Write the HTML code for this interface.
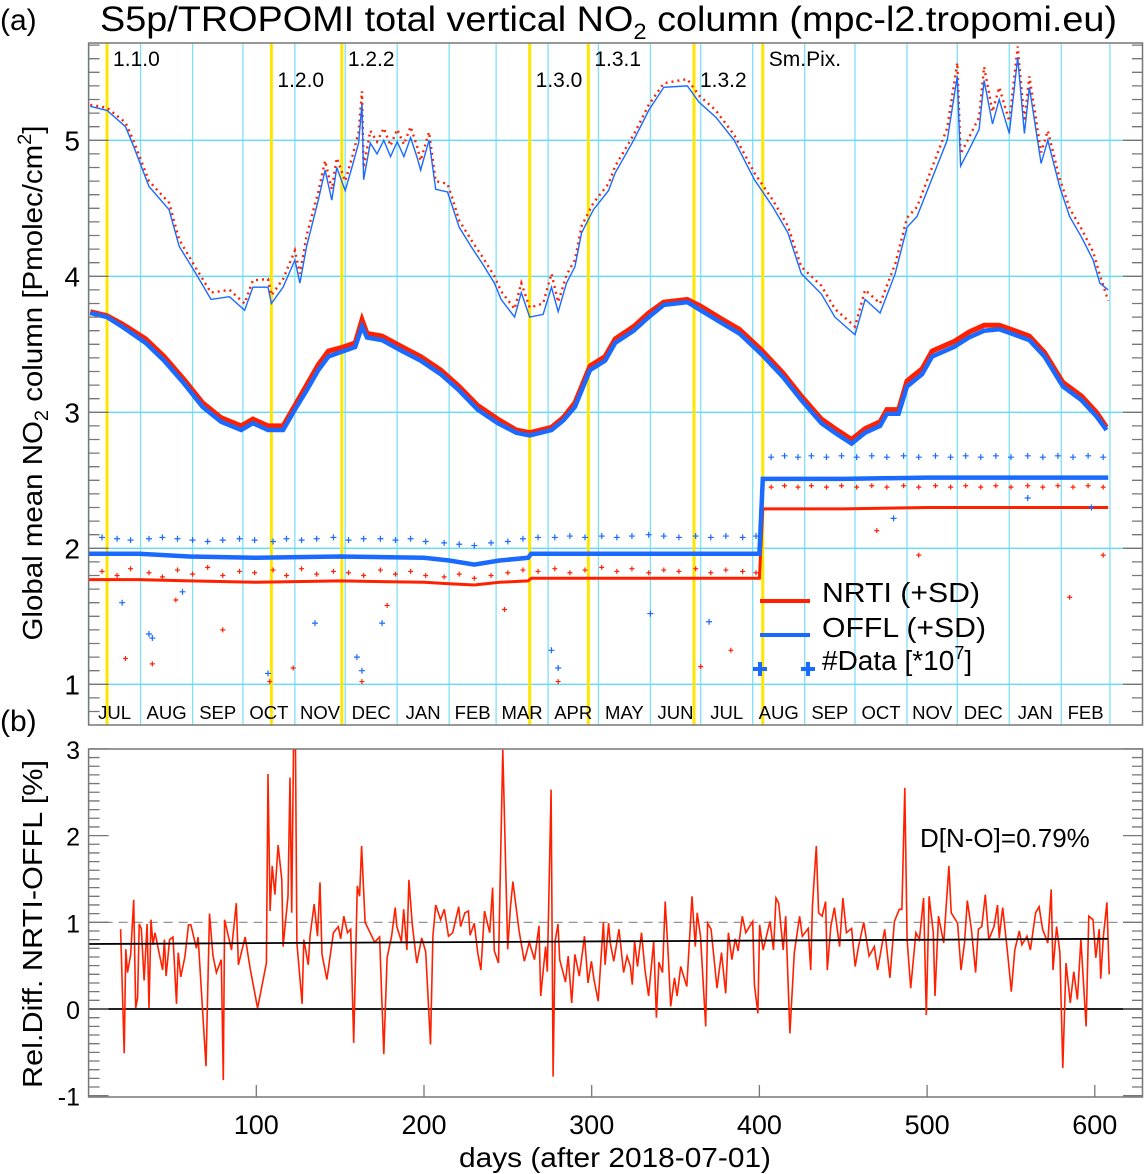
<!DOCTYPE html>
<html><head><meta charset="utf-8"><style>
html,body{margin:0;padding:0;background:#fff;}
svg{display:block;font-family:"Liberation Sans",sans-serif;}
</style></head><body>
<svg id="chart" width="1144" height="1174" viewBox="0 0 1144 1174" xmlns="http://www.w3.org/2000/svg">
<rect width="1144" height="1174" fill="#fff"/>
<g id="gGrid"></g>
<g id="gData"></g>
<g id="gAxes"></g>
<text x="0" y="30" font-size="30">(a)</text>
<text x="100" y="31" font-size="35" textLength="1017" lengthAdjust="spacingAndGlyphs">S5p/TROPOMI total vertical NO<tspan font-size="22" dy="8">2</tspan><tspan dy="-8"> column (mpc-l2.tropomi.eu)</tspan></text>
<text x="0" y="731" font-size="30">(b)</text>
<text transform="translate(42,383) rotate(-90)" text-anchor="middle" font-size="28" textLength="515" lengthAdjust="spacingAndGlyphs">Global mean NO<tspan font-size="19" dy="6">2</tspan><tspan dy="-6"> column [Pmolec/cm</tspan><tspan font-size="19" dy="-11">2</tspan><tspan dy="11">]</tspan></text>
<text transform="translate(42,924) rotate(-90)" text-anchor="middle" font-size="28" textLength="328" lengthAdjust="spacingAndGlyphs">Rel.Diff. NRTI-OFFL [%]</text>
<text x="615" y="1167" text-anchor="middle" font-size="28" textLength="312" lengthAdjust="spacingAndGlyphs">days (after 2018-07-01)</text>
<text x="920" y="847" font-size="26">D[N-O]=0.79%</text>
<g>
<line x1="760" y1="601" x2="810" y2="601" stroke="#ff2000" stroke-width="4"/>
<text x="822" y="602" font-size="28" textLength="158" lengthAdjust="spacingAndGlyphs">NRTI (+SD)</text>
<line x1="760" y1="635" x2="810" y2="635" stroke="#1a6aff" stroke-width="4"/>
<text x="822" y="637" font-size="28" textLength="164" lengthAdjust="spacingAndGlyphs">OFFL (+SD)</text>
<path d="M753 669h14M760 662v14M801 669h14M808 662v14" stroke="#1a6aff" stroke-width="4"/>
<text x="822" y="670" font-size="28">#Data [*10<tspan font-size="18" dy="-11">7</tspan><tspan dy="11">]</tspan></text>
</g>
</svg>
<script>
// ---------- data ----------
const offlUpDays=[1,11,22,27,36,48,54,64,73,84,93,98,107,109,116,123,126,130,137,141,145,148,153,157,161,163,164,168,172,176,180,184,188,192,196,198,203,207,214,217,221,228,235,242,246,254,258,263,271,276,280,285,290,294,301,310,314,325,334,343,357,364,374,385,397,408,417,425,437,445,457,463,472,481,488,494,503,512,518,520,525,531,534,539,543,549,554,558,561,568,572,579,585,592,599,603,608];
const offlUpVals=[5.25,5.22,5.10,4.95,4.66,4.49,4.22,4.02,3.83,3.85,3.75,3.92,3.92,3.80,3.92,4.12,3.95,4.22,4.56,4.78,4.56,4.80,4.63,4.80,4.98,5.27,4.71,4.98,4.90,5.00,4.88,4.99,4.88,5.02,4.87,4.78,5.00,4.64,4.62,4.51,4.36,4.22,4.09,3.95,3.83,3.70,3.88,3.70,3.72,3.92,3.74,3.95,4.07,4.32,4.49,4.63,4.76,5.00,5.22,5.39,5.40,5.28,5.17,5.00,4.71,4.51,4.32,4.02,3.87,3.70,3.57,3.83,3.73,4.02,4.36,4.44,4.72,5.00,5.47,4.81,4.93,5.08,5.44,5.12,5.30,5.05,5.61,5.05,5.39,4.83,5.00,4.66,4.44,4.29,4.12,3.95,3.90];
const nrtiUpVals=[5.26,5.24,5.13,4.99,4.70,4.54,4.27,4.06,3.88,3.90,3.80,3.97,3.98,3.86,3.98,4.19,4.02,4.30,4.62,4.85,4.64,4.87,4.70,4.87,5.06,5.36,4.80,5.07,4.99,5.09,4.96,5.08,4.97,5.10,4.95,4.85,5.06,4.70,4.68,4.57,4.41,4.27,4.14,4.00,3.89,3.76,3.95,3.77,3.80,4.02,3.81,4.01,4.12,4.37,4.54,4.68,4.81,5.04,5.26,5.42,5.45,5.33,5.22,5.04,4.76,4.56,4.37,4.07,3.93,3.76,3.63,3.90,3.80,4.09,4.43,4.51,4.80,5.09,5.57,4.90,5.02,5.17,5.54,5.21,5.39,5.14,5.69,5.14,5.47,4.91,5.07,4.72,4.50,4.35,4.18,4.01,3.82];
const meanDays=[1,11,20,34,45,57,68,79,91,98,107,116,123,130,137,143,152,159,163,166,175,187,198,210,221,232,244,255,263,276,283,290,299,308,314,325,334,343,357,365,377,388,401,414,425,437,445,455,463,472,476,483,488,497,503,516,525,534,543,550,561,570,581,592,601,607];
const offlMean=[3.73,3.70,3.63,3.51,3.38,3.21,3.04,2.93,2.87,2.92,2.87,2.87,3.02,3.16,3.31,3.41,3.45,3.48,3.63,3.55,3.53,3.45,3.38,3.28,3.16,3.02,2.92,2.85,2.83,2.87,2.94,3.04,3.31,3.38,3.51,3.60,3.70,3.79,3.81,3.75,3.66,3.58,3.43,3.26,3.09,2.92,2.85,2.77,2.85,2.90,2.99,2.99,3.19,3.28,3.41,3.48,3.55,3.60,3.61,3.58,3.53,3.41,3.19,3.09,2.97,2.87];
const nrtiMean=[3.74,3.71,3.65,3.54,3.41,3.24,3.07,2.96,2.90,2.95,2.90,2.90,3.05,3.20,3.35,3.45,3.48,3.51,3.68,3.58,3.56,3.48,3.41,3.31,3.19,3.05,2.95,2.87,2.85,2.89,2.96,3.07,3.34,3.41,3.54,3.63,3.73,3.81,3.83,3.78,3.69,3.61,3.46,3.29,3.12,2.95,2.88,2.80,2.88,2.93,3.02,3.02,3.23,3.32,3.45,3.52,3.59,3.64,3.64,3.61,3.56,3.44,3.22,3.12,3.00,2.89];
const countDays=[0,30,60,100,150,200,215,230,245,262,264,300,350,400,402,450,500,550,608];
const offlCount=[1.96,1.96,1.94,1.93,1.94,1.93,1.91,1.88,1.91,1.93,1.96,1.96,1.96,1.96,2.51,2.51,2.52,2.52,2.52];
const nrtiCount=[1.77,1.77,1.76,1.75,1.76,1.75,1.74,1.73,1.75,1.76,1.78,1.78,1.78,1.78,2.29,2.29,2.30,2.30,2.30];
const sdDays=[8,17,25,36,44,53,62,71,80,90,99,110,118,127,136,146,155,164,174,183,192,201,212,221,230,240,250,259,268,278,287,296,306,315,324,334,343,352,362,371,380,390,398,407,415,423,431,440,449,458,467,476,486,495,505,514,523,532,541,550,560,569,578,587,596,605];
const offlSdVals=[2.08,2.07,2.06,2.07,2.08,2.07,2.06,2.05,2.06,2.07,2.06,2.05,2.07,2.06,2.07,2.08,2.06,2.07,2.07,2.06,2.07,2.05,2.04,2.03,2.02,2.04,2.05,2.07,2.08,2.08,2.09,2.08,2.09,2.08,2.09,2.10,2.09,2.08,2.09,2.08,2.09,2.08,2.09,2.67,2.68,2.67,2.68,2.67,2.68,2.67,2.68,2.67,2.68,2.67,2.68,2.67,2.68,2.67,2.68,2.67,2.68,2.67,2.68,2.67,2.68,2.67];
const nrtiSdVals=[1.83,1.80,1.85,1.82,1.79,1.84,1.81,1.86,1.80,1.83,1.82,1.84,1.80,1.85,1.81,1.83,1.82,1.80,1.84,1.81,1.83,1.80,1.79,1.81,1.78,1.80,1.82,1.84,1.83,1.85,1.82,1.84,1.86,1.83,1.85,1.82,1.84,1.83,1.85,1.82,1.84,1.83,1.82,2.45,2.46,2.45,2.46,2.45,2.46,2.45,2.46,2.45,2.46,2.45,2.46,2.45,2.46,2.45,2.46,2.45,2.46,2.45,2.46,2.45,2.46,2.45];
const offlOutDays=[20,36,38,56,107,135,160,163,175,276,280,335,370,480,560,598];
const offlOutVals=[1.60,1.37,1.34,1.68,1.08,1.45,1.20,1.10,1.45,1.25,1.12,1.52,1.46,2.22,2.37,2.30];
const nrtiOutDays=[22,38,52,80,108,122,163,178,248,280,365,383,470,495,585,605];
const nrtiOutVals=[1.19,1.15,1.62,1.40,1.02,1.12,1.02,1.58,1.55,1.02,1.13,1.25,2.13,1.95,1.64,1.95];
const versionDays=[11,109,151,263,298,361,402];
const versionLabels=["1.1.0","1.2.0","1.2.2","1.3.0","1.3.1","1.3.2","Sm.Pix."];
const monthStarts=[0,31,62,92,123,153,184,215,243,274,304,335,365,396,427,457,488,518,549,580,609];
const monthLabels=["JUL","AUG","SEP","OCT","NOV","DEC","JAN","FEB","MAR","APR","MAY","JUN","JUL","AUG","SEP","OCT","NOV","DEC","JAN","FEB"];
const topTicks=[1,2,3,4,5];
const bottomTicks=[-1,0,1,2,3];
const xTicks=[100,200,300,400,500,600];
const diffDays=[19.1,21.2,22.2,23.2,25.1,26.9,28.1,29.2,30.2,31.4,33.1,34.9,36.0,37.2,38.4,39.6,44.1,45.2,46.2,48.3,50.3,52.4,53.4,55.0,57.5,59.6,61.0,64.3,65.3,70.0,72.1,74.1,76.2,79.1,80.3,81.1,85.2,88.1,89.3,93.4,96.3,100.8,106.0,107.0,108.2,109.5,111.1,113.0,115.2,116.0,118.9,120.1,121.1,122.2,123.4,124.2,127.3,128.3,131.0,132.0,134.5,136.5,138.0,139.2,142.1,146.0,148.9,150.3,152.2,154.4,156.3,158.1,160.2,161.6,162.8,164.9,170.6,173.5,176.0,178.0,180.7,182.8,183.8,186.5,187.9,189.8,191.0,193.0,195.7,198.6,201.0,203.9,205.3,207.0,209.9,212.1,214.6,217.1,220.7,221.8,224.4,226.5,227.5,230.0,232.0,233.9,236.1,239.2,240.9,241.9,244.4,247.0,249.9,251.5,253.0,256.7,259.8,262.8,265.9,268.6,269.6,272.5,273.5,275.8,277.0,278.2,279.9,280.9,284.4,286.0,288.1,290.0,292.6,295.7,297.8,299.8,301.4,303.9,307.0,308.0,310.1,311.1,313.2,316.3,319.0,321.1,323.1,324.2,325.6,327.3,329.7,331.8,333.9,337.0,338.6,340.1,342.2,343.8,345.7,347.1,349.4,350.9,353.1,356.7,359.8,361.8,362.9,364.9,368.0,369.1,371.2,374.7,377.4,379.9,381.5,383.6,385.6,387.3,389.8,391.9,396.0,397.0,399.1,400.1,402.2,406.3,408.4,409.9,411.5,414.2,415.7,418.2,420.8,424.0,425.6,429.1,430.6,431.6,433.9,435.3,437.4,439.5,440.5,442.6,444.7,447.8,449.8,451.9,455.0,457.1,459.1,462.2,465.4,468.5,470.5,474.7,477.8,480.5,483.4,485.0,486.7,488.1,490.2,493.3,495.4,497.9,499.5,501.2,503.7,504.7,506.8,509.9,513.0,514.4,518.2,520.2,522.3,524.0,526.4,528.9,530.6,532.6,534.7,536.8,539.9,542.0,543.0,545.1,548.2,550.2,552.3,555.0,556.5,559.6,561.6,564.7,566.8,568.9,572.0,574.0,575.1,577.2,579.2,580.9,582.8,585.4,587.5,589.6,591.7,594.8,596.4,598.9,600.6,602.6,603.5,605.1,607.2,608.6];
const diffVals=[0.92,-0.51,0.69,0.42,0.63,1.26,0.01,0.13,0.98,0.93,0.33,0.98,0.01,1.03,0.74,0.88,0.45,0.80,0.38,0.80,0.83,0.06,0.65,0.37,0.61,0.97,0.97,0.70,0.83,-0.66,1.10,0.62,0.42,0.57,-0.82,1.03,0.68,1.22,0.51,0.83,0.47,0.01,0.53,2.71,1.13,1.65,1.32,1.89,1.49,0.72,1.30,2.67,1.11,2.99,2.99,0.76,0.06,0.80,0.51,0.84,1.21,0.84,1.46,0.63,0.34,0.88,0.95,0.81,1.07,0.88,0.92,-0.39,1.42,1.30,1.88,1.00,0.77,0.83,-0.52,0.59,0.84,1.17,0.95,0.78,1.15,0.68,1.49,0.97,0.53,0.82,0.66,-0.41,0.84,1.20,1.03,1.15,0.84,0.88,1.18,0.95,1.11,1.13,0.85,0.99,0.65,0.45,1.13,0.88,1.40,0.67,0.53,2.99,0.69,1.17,1.47,0.90,0.55,0.77,0.57,0.96,0.15,0.72,0.43,2.53,-0.78,0.78,0.98,0.57,0.31,0.61,0.07,0.63,0.38,0.84,0.30,0.55,0.34,0.09,1.00,0.51,0.99,0.76,0.55,0.92,0.42,0.61,0.49,0.28,0.78,0.49,0.88,0.45,0.15,0.78,-0.10,0.54,0.42,1.24,0.61,0.03,0.36,0.15,0.49,0.26,1.30,0.72,1.11,0.84,-0.20,0.99,0.92,0.24,0.65,0.18,0.88,0.57,0.81,0.67,1.07,0.88,1.01,0.28,-0.05,0.97,0.68,1.01,0.68,1.28,1.22,0.68,1.07,-0.28,0.65,1.07,0.84,0.93,0.45,1.18,1.88,1.11,1.07,1.24,0.45,0.95,1.17,0.72,1.28,0.88,0.93,0.49,0.72,1.00,0.61,0.72,0.45,0.92,0.36,1.01,1.15,1.15,2.55,0.80,0.24,0.88,0.80,1.28,-0.07,1.30,0.88,0.15,1.07,0.76,1.65,1.11,0.99,0.45,0.76,1.25,0.92,0.42,0.92,0.95,1.32,0.80,0.95,1.20,0.82,1.17,0.61,0.20,0.68,0.90,0.74,0.84,0.68,1.11,1.18,0.92,0.76,1.38,0.45,0.95,0.65,-0.68,0.53,0.07,0.43,0.11,0.80,-0.20,1.07,1.03,0.59,0.92,0.35,0.84,1.23,0.40];
const trendDays=[0,608];
const trendVals=[0.75,0.81];

// ---------- scales ----------
const L=88.6, R=1143, TT=43, TB=725, BT=749, BB=1097;
function xS(d){return L+1.677*d;}
function yT(v){return 276.3-136*(v-4);}
function yB(v){return 1009-86.7*v;}
const NS="http://www.w3.org/2000/svg";
function mk(parent,tag,attrs){const e=document.createElementNS(NS,tag);for(const k in attrs)e.setAttribute(k,attrs[k]);parent.appendChild(e);return e;}
const gG=document.getElementById('gGrid'), gD=document.getElementById('gData'), gA=document.getElementById('gAxes');
function pts(days,vals,fy){return days.map((d,i)=>xS(d).toFixed(1)+','+fy(vals[i]).toFixed(1)).join(' ');}

// grid
monthStarts.forEach((d,i)=>{
  const l=mk(gG,'line',{x1:xS(d),x2:xS(d),y1:TT,y2:TB,stroke:'#7fe0f5','stroke-width':1.3});
  
  
});
topTicks.forEach(v=>{
  const l=mk(gG,'line',{x1:L,x2:R,y1:yT(v),y2:yT(v),stroke:'#5fdcf5','stroke-width':1.3});
  
  
});
versionDays.forEach((d,i)=>{
  const l=mk(gG,'line',{x1:xS(d),x2:xS(d),y1:TT,y2:TB,stroke:'#ffe600','stroke-width':3});
  
  
  const t=mk(gG,'text',{x:xS(d)+6,y:(i%2===0?66:87),'font-size':21});
  t.textContent=versionLabels[i];
  
  
});
monthLabels.forEach((m,i)=>{
  const mid=(monthStarts[i]+monthStarts[i+1])/2;
  const t=mk(gG,'text',{x:xS(mid),y:719,'font-size':18.5,'text-anchor':'middle'});
  t.textContent=m;
  
  
});

// top panel series
let e;
e=mk(gD,'polyline',{points:pts(offlUpDays,nrtiUpVals,yT),fill:'none',stroke:'#ff2000','stroke-width':2.4,'stroke-dasharray':'2 4'});


e=mk(gD,'polyline',{points:pts(offlUpDays,offlUpVals,yT),fill:'none',stroke:'#1a6aff','stroke-width':1.4});


e=mk(gD,'polyline',{points:pts(meanDays,nrtiMean,yT),fill:'none',stroke:'#ff2000','stroke-width':5});


e=mk(gD,'polyline',{points:pts(meanDays,offlMean,yT),fill:'none',stroke:'#1a6aff','stroke-width':4.5});


e=mk(gD,'polyline',{points:pts(countDays,nrtiCount,yT),fill:'none',stroke:'#ff2000','stroke-width':3});


e=mk(gD,'polyline',{points:pts(countDays,offlCount,yT),fill:'none',stroke:'#1a6aff','stroke-width':4.5});


function cross(days,vals,col,sz,name){
  days.forEach((d,i)=>{
    const x=xS(d),y=yT(vals[i]);
    const p=mk(gD,'path',{d:`M${x-sz} ${y}h${2*sz}M${x} ${y-sz}v${2*sz}`,stroke:col,'stroke-width':1.2});
    
    
  });
}
cross(sdDays,offlSdVals,'#1a6aff',3,'offl-count-sd-marker');
cross(sdDays,nrtiSdVals,'#ff2000',2.5,'nrti-count-sd-marker');
cross(offlOutDays,offlOutVals,'#1a6aff',3,'offl-count-outlier');
cross(nrtiOutDays,nrtiOutVals,'#ff2000',2.5,'nrti-count-outlier');

// bottom panel
e=mk(gD,'line',{x1:L,x2:R,y1:yB(1),y2:yB(1),stroke:'#888','stroke-width':1.2,'stroke-dasharray':'9 6'});


e=mk(gD,'line',{x1:L,x2:R,y1:yB(0),y2:yB(0),stroke:'#000','stroke-width':1.8});


e=mk(gD,'polyline',{points:pts(diffDays,diffVals,yB),fill:'none',stroke:'#ff2000','stroke-width':1.6});


e=mk(gD,'polyline',{points:pts(trendDays,trendVals,yB),fill:'none',stroke:'#000','stroke-width':1.8});



// axes
[[TT,TB,'top-panel-frame'],[BT,BB,'bottom-panel-frame']].forEach(f=>{
  const r=mk(gA,'rect',{x:L,y:f[0],width:R-L-0.5,height:f[1]-f[0],fill:'none',stroke:'#777','stroke-width':1.5});
  
  
});
let tk='';
for(let i=7;i<=57;i++){const v=i/10,y=yT(v);if(y<TT||y>TB)continue;const len=(i%10===0)?20:11;tk+=`M${L} ${y}h${len}M${R} ${y}h${-len}`;}
for(let i=-10;i<=30;i++){const v=i/10,y=yB(v);const len=(i%10===0)?20:11;tk+=`M${L} ${y}h${len}M${R} ${y}h${-len}`;}
e=mk(gA,'path',{d:tk,stroke:'#777','stroke-width':1.3});


topTicks.forEach(v=>{
  const t=mk(gA,'text',{x:80,y:yT(v)+10,'font-size':28,'text-anchor':'end'});
  t.textContent=String(v);
  
  
});
bottomTicks.forEach(v=>{
  const t=mk(gA,'text',{x:80,y:yB(v)+10,'font-size':25,'text-anchor':'end'});
  t.textContent=String(v);
  
  
});
xTicks.forEach(d=>{
  const x=xS(d);
  const p=mk(gA,'path',{d:`M${x} ${BB}v-12`,stroke:'#777','stroke-width':1.3});
  
  
  const t=mk(gA,'text',{x:x,y:1134,'font-size':27,'text-anchor':'middle'});
  t.textContent=String(d);
  
  
});
</script>
</body></html>
